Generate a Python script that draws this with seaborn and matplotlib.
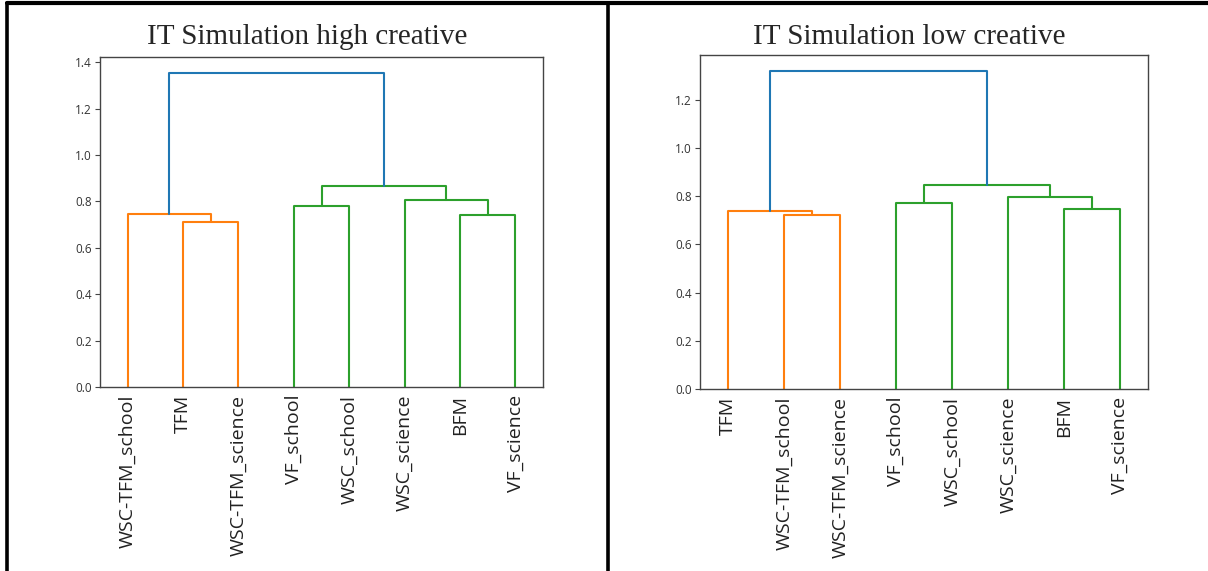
import matplotlib
matplotlib.use("Agg")
import matplotlib.pyplot as plt
from matplotlib.lines import Line2D
import seaborn as sns

# ---- data ----
titles = ["IT Simulation high creative", "IT Simulation low creative"]

labels_high = ["WSC-TFM_school", "TFM", "WSC-TFM_science", "VF_school",
               "WSC_school", "WSC_science", "BFM", "VF_science"]
# merges: (child_a, child_b, height); index >= n_leaves refers to earlier merge
merges_high = [(1, 2, 0.711), (0, 8, 0.747), (3, 4, 0.780), (6, 7, 0.743),
               (5, 11, 0.807), (10, 12, 0.866), (9, 13, 1.355)]

labels_low = ["TFM", "WSC-TFM_school", "WSC-TFM_science", "VF_school",
              "WSC_school", "WSC_science", "BFM", "VF_science"]
merges_low = [(1, 2, 0.720), (0, 8, 0.739), (3, 4, 0.771), (6, 7, 0.747),
              (5, 11, 0.796), (10, 12, 0.845), (9, 13, 1.320)]

sns.set_style("white")
plt.rcParams["font.family"] = ["Open Sans", "DejaVu Sans"]

above_color = "C0"
cluster_colors = ["C1", "C2", "C3", "C4"]


def draw_dendrogram(ax, labels, merges):
    n = len(labels)
    xpos = {i: 5 + 10 * i for i in range(n)}
    hpos = {i: 0.0 for i in range(n)}
    parent = {}
    for k, (a, b, h) in enumerate(merges):
        node = n + k
        xpos[node] = (xpos[a] + xpos[b]) / 2
        hpos[node] = h
        parent[a] = node
        parent[b] = node
    mh = max(h for _, _, h in merges)
    thr = 0.7 * mh
    # cluster roots: below threshold whose parent is above threshold
    roots = [n + k for k, (a, b, h) in enumerate(merges)
             if h < thr and (n + k not in parent or hpos[parent[n + k]] >= thr)]
    roots.sort(key=lambda r: xpos[r])
    root_color = {r: cluster_colors[i] for i, r in enumerate(roots)}

    def color_of(node):
        cur = node
        while cur is not None:
            if cur in root_color:
                return root_color[cur]
            cur = parent.get(cur)
        return above_color

    for k, (a, b, h) in enumerate(merges):
        node = n + k
        c = color_of(node) if h < thr else above_color
        xl, xr = sorted([(xpos[a], hpos[a]), (xpos[b], hpos[b])])
        xs = [xl[0], xl[0], xr[0], xr[0]]
        ys = [xl[1], h, h, xr[1]]
        sns.lineplot(x=xs, y=ys, sort=False, estimator=None, color=c,
                     linewidth=1.5, ax=ax)

    ax.set_xlim(0, 10 * n)
    ax.set_ylim(0, mh * 1.05)
    ax.set_xticks([xpos[i] for i in range(n)])
    ax.set_xticklabels(labels, rotation=90, fontsize=14, color="#222222")
    ax.tick_params(axis="y", labelsize=8.5, labelcolor="#333333",
                   left=True, length=3.5, width=0.8, color="#444444", pad=2.5)
    ax.tick_params(axis="x", bottom=False, pad=2)
    for sp in ax.spines.values():
        sp.set_color("#444444")
        sp.set_linewidth(1.0)
    ax.grid(False)


fig = plt.figure(figsize=(12.08, 5.71), dpi=100)
ax1 = fig.add_axes([0.0828, 0.3222, 0.3667, 0.578])
ax2 = fig.add_axes([0.5795, 0.3187, 0.3709, 0.585])

draw_dendrogram(ax1, labels_high, merges_high)
draw_dendrogram(ax2, labels_low, merges_low)

fig.text(0.254, 0.935, titles[0], ha="center", va="center",
         fontsize=21, family="Liberation Serif")
fig.text(0.753, 0.935, titles[1], ha="center", va="center",
         fontsize=21, family="Liberation Serif")

# table borders
fig.add_artist(Line2D([0.0054, 1.0], [0.9947, 0.9947], color="black",
                      linewidth=3.0, transform=fig.transFigure))
fig.add_artist(Line2D([0.0054, 0.0054], [0.0, 0.9947], color="black",
                      linewidth=2.6, transform=fig.transFigure))
fig.add_artist(Line2D([0.5037, 0.5037], [0.0, 0.9947], color="black",
                      linewidth=2.6, transform=fig.transFigure))

fig.savefig("out.png", dpi=100)
